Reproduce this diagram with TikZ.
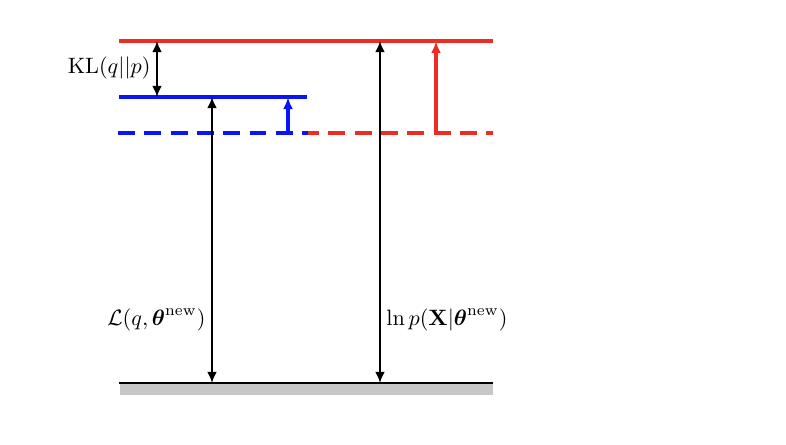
\documentclass[tikz,border=0pt]{standalone}
\usepackage{amsmath}
\usetikzlibrary{arrows.meta}
\definecolor{emred}{RGB}{237,45,36}
\definecolor{emblue}{RGB}{10,20,250}
\tikzset{
  bound/.style={line width=1.4pt},
  olddash/.style={bound,dash pattern=on 7.6pt off 4.24pt},
  gap/.style={line width=0.9pt,{Latex[length=5pt,width=4.4pt]}-{Latex[length=5pt,width=4.4pt]}},
  rise/.style={line width=1.4pt,-{Latex[length=5.5pt,width=4.5pt]}},
}
\begin{document}
\begin{tikzpicture}[x=0.45pt,y=-0.45pt]
  \useasboundingbox (0,0) rectangle (786,445);
  % levels
  \coordinate (lnL) at (119,41);   \coordinate (lnR) at (493,41);
  \coordinate (qL) at (119,97);    \coordinate (qR) at (307,97);
  \coordinate (oldL) at (118,133); \coordinate (oldM) at (302.1,133);
  \coordinate (oldB) at (308,133); \coordinate (oldR) at (493,133);
  \coordinate (zeroL) at (119,383); \coordinate (zeroR) at (493,383);
  \fill[black!22] (120,384) rectangle (493,395);
  \draw[line width=1.25pt] (zeroL) -- (zeroR);
  \draw[bound,emred] (lnL) -- (lnR);
  \draw[bound,emblue] (qL) -- (qR);
  \draw[olddash,emred] (oldM) -- (oldR);
  \draw[olddash,emblue] (oldL) -- (oldB);
  % arrow ends
  \coordinate (klT) at (157,41);  \coordinate (klB) at (157,97);
  \coordinate (bT) at (212,97);   \coordinate (bB) at (212,383);
  \coordinate (lT) at (380,41);   \coordinate (lB) at (380,383);
  \coordinate (eB) at (288,133);  \coordinate (eT) at (288,97);
  \coordinate (mB) at (436,133);  \coordinate (mT) at (436,41);
  \draw[gap] (klT) -- (klB);
  \draw[gap] (bT) -- (bB);
  \draw[gap] (lT) -- (lB);
  \draw[rise,emblue] (eB) -- (eT);
  \draw[rise,emred] (mB) -- (mT);
  % labels
  \node[anchor=east,inner sep=0pt] (kl) at (151,68) {$\mathrm{KL}(q||p)$};
  \node[anchor=east,inner sep=0pt] (lb) at (206,320) {$\mathcal{L}(q,\boldsymbol{\theta}^{\mathrm{new}})$};
  \node[anchor=west,inner sep=0pt] (ll) at (386,320) {$\ln p(\mathbf{X}|\boldsymbol{\theta}^{\mathrm{new}})$};
\end{tikzpicture}
\end{document}
